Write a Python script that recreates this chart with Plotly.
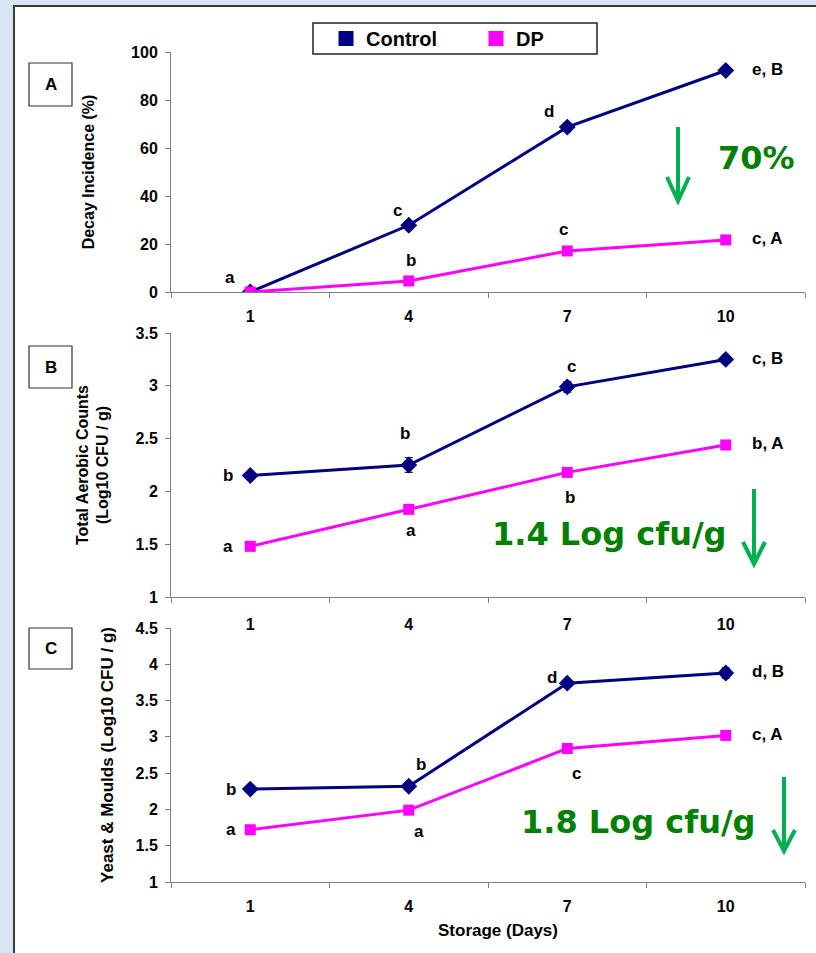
import plotly.graph_objects as go

W, H = 816, 953

days = ["1", "4", "7", "10"]

# Panel A: Decay incidence (%)
decay_control = [0, 27.8, 68.7, 92.3]
decay_dp = [0, 4.6, 17.1, 21.7]
decay_control_err = [0.5, 1.2, 1.8, 1.0]
decay_dp_err = [0.3, 0.8, 0.9, 0.8]
decay_control_lbl = ["a", "c", "d", "e, B"]
decay_dp_lbl = ["", "b", "c", "c, A"]

# Panel B: Total aerobic counts (log10 CFU/g)
tac_control = [2.15, 2.25, 2.99, 3.25]
tac_dp = [1.48, 1.83, 2.18, 2.44]
tac_control_err = [0.02, 0.07, 0.05, 0.03]
tac_dp_err = [0.02, 0.03, 0.02, 0.03]
tac_control_lbl = ["b", "b", "c", "c, B"]
tac_dp_lbl = ["a", "a", "b", "b, A"]

# Panel C: Yeast & moulds (log10 CFU/g)
ym_control = [2.28, 2.32, 3.74, 3.88]
ym_dp = [1.72, 1.99, 2.84, 3.02]
ym_control_err = [0.02, 0.05, 0.04, 0.07]
ym_dp_err = [0.02, 0.03, 0.03, 0.03]
ym_control_lbl = ["b", "b", "d", "d, B"]
ym_dp_lbl = ["a", "a", "c", "c, A"]

reductions = ["70%", "1.4 Log cfu/g", "1.8 Log cfu/g"]

NAVY = "#000080"
MAG = "#ff00ff"
GREEN_TXT = "#008000"
GREEN_ARR = "#00b050"
AX = "#7f7f7f"
FONT = "Liberation Sans, Arial, sans-serif"


def px(x):
    return x / W


def py(y):
    return 1 - y / H


fig = go.Figure()

panels = [
    dict(ctrl=decay_control, dp=decay_dp, ce=decay_control_err, de=decay_dp_err,
         cl=decay_control_lbl, dl=decay_dp_lbl, top=52, bot=292, rng=[0, 100], dt=20,
         title="Decay Incidence (%)", letter="A", box=(29, 63, 72, 106)),
    dict(ctrl=tac_control, dp=tac_dp, ce=tac_control_err, de=tac_dp_err,
         cl=tac_control_lbl, dl=tac_dp_lbl, top=333, bot=597, rng=[1, 3.5], dt=0.5,
         title="Total Aerobic Counts<br>(Log10 CFU / g)", letter="B", box=(29, 346, 72, 388)),
    dict(ctrl=ym_control, dp=ym_dp, ce=ym_control_err, de=ym_dp_err,
         cl=ym_control_lbl, dl=ym_dp_lbl, top=628, bot=882, rng=[1, 4.5], dt=0.5,
         title="Yeast & Moulds (Log10 CFU / g)", letter="C", box=(29, 628, 72, 669)),
]

# label offsets (xshift, yshift) in pixels for each panel/series
ctrl_off = [
    [(-20, 14), (-11, 15), (-18, 16), None],
    [(-22, 0), (-4, 32), (4, 20), None],
    [(-19, 0), (12, 22), (-15, 6), None],
]
dp_off = [
    [(0, 0), (2, 20), (-4, 21), None],
    [(-22, 0), (2, -21), (3, -25), None],
    [(-19, 0), (10, -21), (9, -25), None],
]
title_std = [32, 22, 17]
title_size = [16, 16, 17]
xlab_std = [10, 13, 10]

shapes = [
    dict(type="rect", xref="paper", yref="paper", x0=px(14), x1=px(830), y0=py(6), y1=py(970),
         fillcolor="white", line=dict(color="#3a3a3a", width=2), layer="below"),
    # legend frame
    dict(type="rect", xref="paper", yref="paper", x0=px(313), x1=px(597), y0=py(54), y1=py(23),
         fillcolor="white", line=dict(color="#222222", width=1.5), layer="below"),
]
annotations = []

layout_axes = {}
for i, p in enumerate(panels):
    n = "" if i == 0 else str(i + 1)
    xa, ya = "x" + n, "y" + n
    fig.add_trace(go.Scatter(
        x=days, y=p["ctrl"], xaxis=xa, yaxis=ya, mode="lines+markers", showlegend=False,
        line=dict(color=NAVY, width=3), marker=dict(symbol="diamond", size=13, color=NAVY),
        error_y=dict(type="data", array=p["ce"], color="#222222", thickness=1.2, width=4),
        name="Control"))
    fig.add_trace(go.Scatter(
        x=days, y=p["dp"], xaxis=xa, yaxis=ya, mode="lines+markers", showlegend=False,
        line=dict(color=MAG, width=3), marker=dict(symbol="square", size=11, color=MAG),
        error_y=dict(type="data", array=p["de"], color="#222222", thickness=1.2, width=4),
        name="DP"))
    layout_axes["xaxis" + n] = dict(
        domain=[px(171), px(805)], anchor=ya, type="category", categoryorder="array",
        categoryarray=days, range=[-0.5, 3.5], tickson="boundaries", ticks="outside",
        ticklen=5, tickcolor=AX, showline=True, linecolor=AX, linewidth=1, showgrid=False,
        zeroline=False, ticklabelstandoff=xlab_std[i], automargin=False,
        tickfont=dict(family=FONT, size=16, color="black", weight="bold"))
    layout_axes["yaxis" + n] = dict(
        domain=[py(p["bot"]), py(p["top"])], anchor=xa, range=p["rng"], dtick=p["dt"],
        ticks="outside", ticklen=5, tickcolor=AX, showline=True, linecolor=AX, linewidth=1,
        showgrid=False, zeroline=False, ticklabelstandoff=4, automargin=False,
        tickfont=dict(family=FONT, size=16, color="black", weight="bold"),
        title=dict(text=p["title"], standoff=title_std[i],
                   font=dict(family=FONT, size=title_size[i], color="black", weight="bold")))
    # significance letters (x given as category index)
    for j in range(4):
        for vals, lbls, offs in ((p["ctrl"], p["cl"], ctrl_off[i]), (p["dp"], p["dl"], dp_off[i])):
            if not lbls[j]:
                continue
            font = dict(family=FONT, size=17, color="black", weight="bold")
            if offs[j] is None:
                annotations.append(dict(x=j, y=vals[j], xref=xa, yref=ya, text=lbls[j],
                                        showarrow=False, xanchor="left", yanchor="middle",
                                        xshift=24, yshift=1, font=font))
            else:
                annotations.append(dict(x=j, y=vals[j], xref=xa, yref=ya, text=lbls[j],
                                        showarrow=False, xanchor="center", yanchor="middle",
                                        xshift=offs[j][0], yshift=offs[j][1], font=font))
    # panel letter box
    x0, y0, x1, y1 = p["box"]
    shapes.append(dict(type="rect", xref="paper", yref="paper", x0=px(x0), x1=px(x1),
                       y0=py(y1), y1=py(y0), line=dict(color="#333333", width=1.2),
                       fillcolor="white"))
    annotations.append(dict(x=px((x0 + x1) / 2), y=py((y0 + y1) / 2), xref="paper", yref="paper",
                            text=p["letter"], showarrow=False, xanchor="center", yanchor="middle",
                            font=dict(family=FONT, size=17, color="black", weight="bold")))

fig.update_layout(**layout_axes)

# green reduction arrows and texts
arrows = [(678, 127, 201, 177, 11), (754, 489, 564, 542, 11), (784, 777, 851, 830, 11)]
for (x, yt, yb, yw, hw) in arrows:
    shapes.append(dict(type="path", xref="paper", yref="paper",
                       path=f"M {px(x)},{py(yt)} L {px(x)},{py(yb - 2)} "
                            f"M {px(x - hw)},{py(yw)} L {px(x)},{py(yb)} L {px(x + hw)},{py(yw)}",
                       line=dict(color=GREEN_ARR, width=4)))
green_pos = [(756, 158), (609, 534), (638, 822)]
for txt, (gx, gy) in zip(reductions, green_pos):
    annotations.append(dict(x=px(gx), y=py(gy), xref="paper", yref="paper", text=txt,
                            showarrow=False, xanchor="center", yanchor="middle",
                            font=dict(family="DejaVu Sans, Verdana, sans-serif", size=32,
                                      color=GREEN_TXT, weight="bold")))

# x-axis title
annotations.append(dict(x=px(498), y=py(930), xref="paper", yref="paper", text="Storage (Days)",
                        showarrow=False, xanchor="center", yanchor="middle",
                        font=dict(family=FONT, size=17, color="black", weight="bold")))

# legend entries
fig.add_trace(go.Scatter(x=[None], y=[None], mode="markers", name="Control",
                         marker=dict(symbol="square", size=15, color=NAVY)))
fig.add_trace(go.Scatter(x=[None], y=[None], mode="markers", name="DP",
                         marker=dict(symbol="square", size=15, color=MAG)))

fig.update_layout(
    width=W, height=H, margin=dict(l=0, r=0, t=0, b=0, autoexpand=False),
    paper_bgcolor="#d7e5f4", plot_bgcolor="rgba(0,0,0,0)",
    shapes=shapes, annotations=annotations,
    showlegend=True,
    legend=dict(orientation="h", x=px(326), y=py(19), xanchor="left", yanchor="top",
                bgcolor="rgba(0,0,0,0)", borderwidth=0,
                entrywidth=105, entrywidthmode="pixels", itemwidth=30, itemclick=False,
                font=dict(family=FONT, size=20, color="black", weight="bold")),
)

fig.write_html("out.html")
